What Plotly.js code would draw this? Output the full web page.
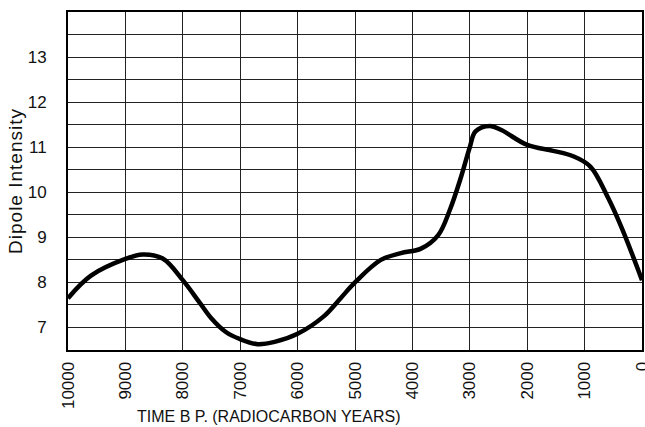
<!DOCTYPE html>
<html>
<head>
<meta charset="utf-8">
<script src="https://cdn.plot.ly/plotly-3.0.1.min.js"></script>
<style>
html,body{margin:0;padding:0;background:#fff;}
#chart{width:645px;height:427px;}
.ytitle{letter-spacing:1.0px;}
</style>
</head>
<body>
<div id="chart"></div>
<script>
// Years before present (radiocarbon years)
const years = [10000, 9600, 9000, 8700, 8350, 8000, 7700, 7500, 7250, 7000, 6700, 6400, 6000, 5550, 5250, 5000, 4550, 4200, 3850, 3550, 3350, 3150, 3000, 2900, 2650, 2450, 2000, 1550, 1200, 900, 600, 350, 0];
// Dipole intensity
const intensity = [7.65, 8.15, 8.52, 8.62, 8.53, 8.05, 7.54, 7.2, 6.9, 6.74, 6.63, 6.68, 6.86, 7.24, 7.65, 8.0, 8.5, 8.65, 8.75, 9.05, 9.6, 10.35, 11.0, 11.35, 11.47, 11.38, 11.05, 10.92, 10.8, 10.57, 9.9, 9.2, 8.05];

const xTickVals = [10000, 9000, 8000, 7000, 6000, 5000, 4000, 3000, 2000, 1000, 0];
const xTickText = ['10000', '9000', '8000', '7000', '6000', '5000', '4000', '3000', '2000', '1000', '0'];
const yGridVals = [6.5, 7, 7.5, 8, 8.5, 9, 9.5, 10, 10.5, 11, 11.5, 12, 12.5, 13, 13.5, 14];
const yGridText = ['', '7', '', '8', '', '9', '', '10', '', '11', '', '12', '', '13', '', ''];

const xTitle = 'TIME B P. (RADIOCARBON YEARS)';
const yTitle = 'Dipole Intensity';

const FONT = 'Liberation Sans, Arial, Helvetica, sans-serif';

const trace = {
  x: years,
  y: intensity,
  type: 'scatter',
  mode: 'lines',
  line: {color: '#000', width: 4.5, shape: 'spline', smoothing: 1},
  hoverinfo: 'skip'
};

const layout = {
  width: 645,
  height: 427,
  margin: {l: 68, r: 3, t: 12, b: 77},
  paper_bgcolor: '#fff',
  plot_bgcolor: '#fff',
  showlegend: false,
  font: {family: FONT, color: '#111', size: 16},
  xaxis: {
    range: [10000, 0],
    tickvals: xTickVals,
    ticktext: xTickText,
    tickangle: -90,
    ticks: '',
    ticklabelstandoff: 3,
    ticklabeloverflow: 'allow',
    tickfont: {family: FONT, size: 17, color: '#111'},
    showgrid: true,
    gridcolor: '#222',
    gridwidth: 1,
    zeroline: false,
    showline: true,
    linecolor: '#000',
    linewidth: 2,
    mirror: true
  },
  yaxis: {
    range: [6.5, 14],
    tickvals: yGridVals,
    ticktext: yGridText,
    ticks: '',
    ticklabelstandoff: 16,
    tickfont: {family: FONT, size: 17, color: '#111'},
    showgrid: true,
    gridcolor: '#222',
    gridwidth: 1,
    zeroline: false,
    showline: true,
    linecolor: '#000',
    linewidth: 2,
    mirror: true,
    title: {text: yTitle, font: {family: FONT, size: 19, color: '#111'}, standoff: 0}
  },
  annotations: [{
    text: xTitle,
    xref: 'paper', yref: 'paper',
    x: 0.349, y: -0.198,
    xanchor: 'center', yanchor: 'middle',
    showarrow: false,
    font: {family: FONT, size: 16, color: '#111'}
  }]
};

Plotly.newPlot('chart', [trace], layout, {staticPlot: true, displayModeBar: false});
</script>
</body>
</html>
